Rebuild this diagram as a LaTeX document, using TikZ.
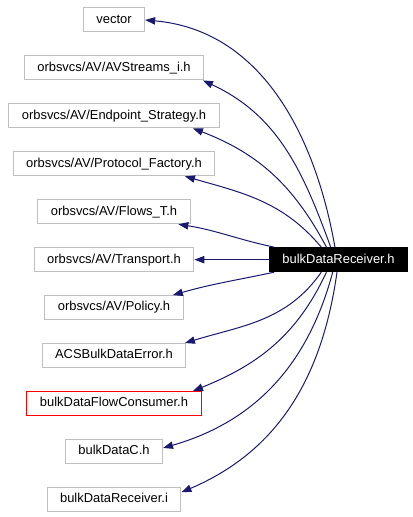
\documentclass[tikz,border=0pt]{standalone}
\usepackage{fontspec}
\setmainfont{Liberation Sans}
\usetikzlibrary{arrows.meta, positioning}
\definecolor{edgeblue}{HTML}{191970}
\definecolor{boxgray}{HTML}{BFBFBF}

\begin{document}
\begin{tikzpicture}[
  file/.style={rectangle, draw=#1, line width=0.75pt, minimum height=18pt,
    inner xsep=9.75pt, text height=7pt, text depth=2pt,
    font=\fontsize{9.7}{11}\selectfont},
  file/.default=boxgray,
  dep/.style={draw=edgeblue, line width=0.75pt, -{Triangle[length=7.5pt, width=5.5pt]}},
  node distance=17.2pt,
]
  \useasboundingbox (-85.5pt,15pt) rectangle (224.25pt,-372.75pt);
  % headers included by bulkDataReceiver.h
  \node[file] (vector) {vector};
  \node[file, below=of vector] (avstreams) {orbsvcs/AV/AVStreams\_i.h};
  \node[file, below=of avstreams] (endpoint) {orbsvcs/AV/Endpoint\_Strategy.h};
  \node[file, below=of endpoint] (protocol) {orbsvcs/AV/Protocol\_Factory.h};
  \node[file, below=of protocol] (flows) {orbsvcs/AV/Flows\_T.h};
  \node[file, below=of flows] (transport) {orbsvcs/AV/Transport.h};
  \node[file, below=of transport] (policy) {orbsvcs/AV/Policy.h};
  \node[file, below=of policy] (acserror) {ACSBulkDataError.h};
  \node[file=red, below=of acserror] (flowcons) {bulkDataFlowConsumer.h};
  \node[file, below=of flowcons] (datac) {bulkDataC.h};
  \node[file, below=of datac] (recvi) {bulkDataReceiver.i};
  \node[file=black, fill=black, text=white] (recv) at ([xshift=168.4pt]transport.center) {bulkDataReceiver.h};

  % include edges
  \draw[dep] (recv.106) to[out=100, in=-5] (vector.east);
  \draw[dep] (recv.122) to[out=110, in=-25] (avstreams.-8);
  \draw[dep] (recv.134) to[out=118, in=-21] (endpoint.-9);
  \draw[dep] (recv.144) to[out=130, in=-16] (protocol.-10);
  \draw[dep] (recv.169) to[out=168, in=-9] (flows.-11);
  \draw[dep] (recv) -- (transport);
  \draw[dep] (recv.191) to[out=192, in=16] (policy.12);
  \draw[dep] (recv.216) to[out=235, in=17] (acserror.10);
  \draw[dep] (recv.226) to[out=245, in=22] (flowcons.9);
  \draw[dep] (recv.245) to[out=255, in=16] (datac.4);
  \draw[dep] (recv.263) to[out=262, in=23] (recvi.6);
\end{tikzpicture}
\end{document}
